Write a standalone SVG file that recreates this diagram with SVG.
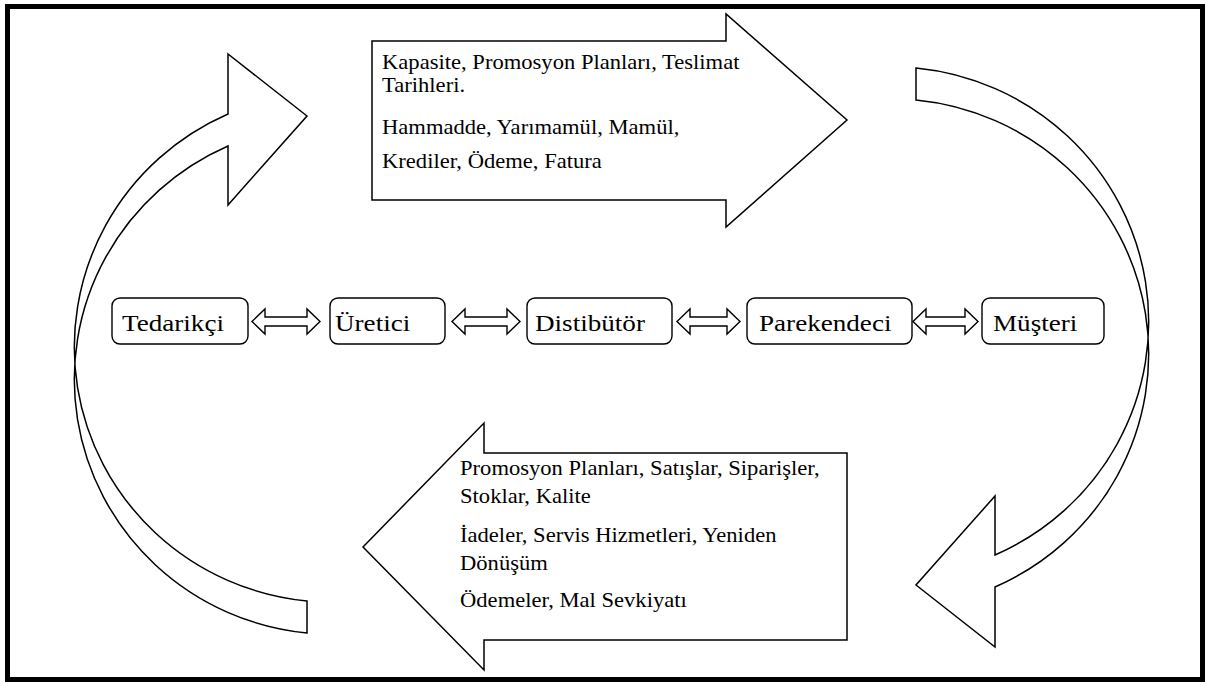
<svg xmlns="http://www.w3.org/2000/svg" width="1205" height="682" viewBox="0 0 1205 682">
<style>
  .shape { fill: #ffffff; stroke: #000000; stroke-width: 1.5; stroke-linejoin: miter; }
  .box { fill: #ffffff; stroke: #000000; stroke-width: 1.4; }
  .lbl { font-family: "Liberation Serif", "Times New Roman", serif; font-size: 24px; fill: #000000; }
  .txt { font-family: "Liberation Serif", "Times New Roman", serif; font-size: 20px; fill: #000000; }
  .dbl { fill: #ffffff; stroke: #000000; stroke-width: 1.4; stroke-linejoin: miter; }
</style>
<defs>
  <path id="curved" d="M228,146 A258,255 0 0 0 307,633 L307,601 A258,255 0 0 1 228,114 L228,54 L307,116 L228,205 Z"/>
</defs>
<rect x="0" y="0" width="1205" height="682" fill="#ffffff"/>
<rect x="7.5" y="6.5" width="1195" height="673" fill="none" stroke="#000000" stroke-width="5"/>

<g id="curved-arrow-left">
  <use href="#curved" class="shape"/>
</g>
<g id="curved-arrow-right">
  <use href="#curved" class="shape" transform="rotate(180 611.5 350.5)"/>
</g>

<g id="flow-forward">
  <path class="shape" d="M372,41 L726,41 L726,14 L847,120 L726,227 L726,200 L372,200 Z"/>
  <g transform="translate(382 0) scale(1.13 1)">
    <text class="txt" x="0" y="69">Kapasite, Promosyon Planları, Teslimat</text>
    <text class="txt" x="0" y="92">Tarihleri.</text>
    <text class="txt" x="0" y="134">Hammadde, Yarımamül, Mamül,</text>
    <text class="txt" x="0" y="168">Krediler, Ödeme, Fatura</text>
  </g>
</g>

<g id="flow-backward">
  <path class="shape" d="M847,453 L484,453 L484,423 L363,547 L484,670 L484,640 L847,640 Z"/>
  <g transform="translate(460 0) scale(1.13 1)">
    <text class="txt" x="0" y="475">Promosyon Planları, Satışlar, Siparişler,</text>
    <text class="txt" x="0" y="503">Stoklar, Kalite</text>
    <text class="txt" x="0" y="542">İadeler, Servis Hizmetleri, Yeniden</text>
    <text class="txt" x="0" y="570">Dönüşüm</text>
    <text class="txt" x="0" y="607">Ödemeler, Mal Sevkiyatı</text>
  </g>
</g>

<g id="connectors">
  <path class="dbl" d="M252,321.5 L265,309 L265,317 L307,317 L307,309 L320,321.5 L307,334 L307,326 L265,326 L265,334 Z"/>
  <path class="dbl" d="M452,321.5 L465,309 L465,317 L507,317 L507,309 L520,321.5 L507,334 L507,326 L465,326 L465,334 Z"/>
  <path class="dbl" d="M677,321.5 L690,309 L690,317 L727,317 L727,309 L740,321.5 L727,334 L727,326 L690,326 L690,334 Z"/>
  <path class="dbl" d="M913,321.5 L926,309 L926,317 L965,317 L965,309 L978,321.5 L965,334 L965,326 L926,326 L926,334 Z"/>
</g>

<g id="node-tedarikci">
  <rect class="box" x="112" y="298" width="136" height="46" rx="8"/>
  <text class="lbl" transform="translate(122 331) scale(1.13 1)">Tedarikçi</text>
</g>
<g id="node-uretici">
  <rect class="box" x="330" y="298" width="115" height="46" rx="8"/>
  <text class="lbl" transform="translate(335 331) scale(1.13 1)">Üretici</text>
</g>
<g id="node-distibutor">
  <rect class="box" x="527" y="298" width="145" height="46" rx="8"/>
  <text class="lbl" transform="translate(535 331) scale(1.13 1)">Distibütör</text>
</g>
<g id="node-parekendeci">
  <rect class="box" x="747" y="298" width="165" height="46" rx="8"/>
  <text class="lbl" transform="translate(759 331) scale(1.13 1)">Parekendeci</text>
</g>
<g id="node-musteri">
  <rect class="box" x="982" y="298" width="122" height="46" rx="8"/>
  <text class="lbl" transform="translate(993 331) scale(1.13 1)">Müşteri</text>
</g>
</svg>
